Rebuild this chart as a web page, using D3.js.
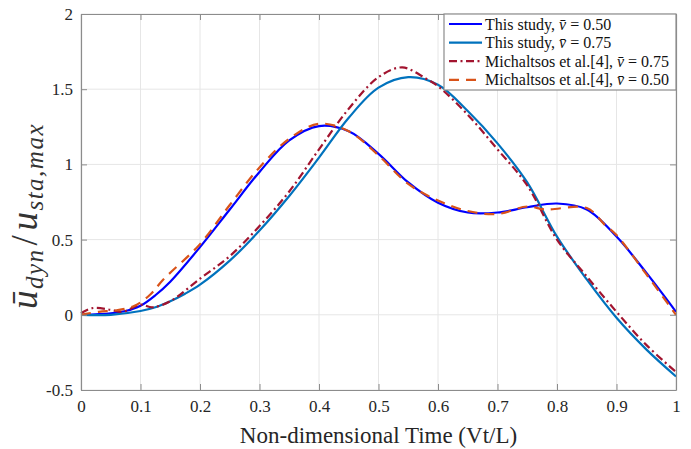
<!DOCTYPE html>
<html>
<head>
<meta charset="utf-8">
<script src="https://cdn.jsdelivr.net/npm/d3@7"></script>
<style>
  body { margin: 0; background: #fff; }
  svg text { font-family: "Liberation Serif", "DejaVu Serif", serif; }
</style>
</head>
<body>
<svg id="chart" width="691" height="449"></svg>
<script>
// values
var xTicks = [0, 0.1, 0.2, 0.3, 0.4, 0.5, 0.6, 0.7, 0.8, 0.9, 1];
var yTicks = [-0.5, 0, 0.5, 1, 1.5, 2];

var study050 = [
  [0, 0], [0.05, 0.01], [0.075, 0.025], [0.1, 0.06], [0.125, 0.13], [0.15, 0.22],
  [0.2, 0.45], [0.25, 0.7], [0.3, 0.95], [0.35, 1.16], [0.4, 1.255], [0.45, 1.22],
  [0.5, 1.07], [0.55, 0.88], [0.6, 0.745], [0.65, 0.68], [0.7, 0.68], [0.75, 0.715],
  [0.8, 0.74], [0.85, 0.7], [0.9, 0.52], [0.95, 0.28], [1, 0.02]
];
var study075 = [
  [0, 0], [0.05, 0.0], [0.1, 0.025], [0.125, 0.05], [0.15, 0.09], [0.175, 0.14],
  [0.2, 0.2], [0.25, 0.36], [0.3, 0.56], [0.35, 0.79], [0.4, 1.045], [0.45, 1.31],
  [0.5, 1.51], [0.55, 1.58], [0.6, 1.53], [0.65, 1.355], [0.7, 1.14], [0.75, 0.88],
  [0.8, 0.52], [0.85, 0.235], [0.9, -0.02], [0.95, -0.23], [1, -0.41]
];
var mich075 = [
  [0, 0.01], [0.02, 0.045], [0.05, 0.033], [0.07, 0.02], [0.1, 0.067], [0.12, 0.05],
  [0.15, 0.09], [0.2, 0.24], [0.25, 0.39], [0.3, 0.59], [0.35, 0.82], [0.4, 1.1],
  [0.45, 1.37], [0.5, 1.58], [0.54, 1.645], [0.58, 1.57], [0.6, 1.52], [0.65, 1.33],
  [0.7, 1.1], [0.75, 0.86], [0.8, 0.5], [0.85, 0.255], [0.9, 0.02], [0.95, -0.2], [1, -0.38]
];
var mich050 = [
  [0, 0.0], [0.03, 0.02], [0.06, 0.03], [0.09, 0.06], [0.116, 0.133], [0.138, 0.233],
  [0.2, 0.47], [0.25, 0.73], [0.3, 0.98], [0.35, 1.17], [0.4, 1.27], [0.45, 1.22],
  [0.5, 1.06], [0.55, 0.87], [0.6, 0.76], [0.65, 0.69], [0.7, 0.67], [0.75, 0.72],
  [0.78, 0.7], [0.85, 0.71], [0.88, 0.6], [0.9, 0.53], [0.95, 0.27], [1, 0.0]
];

var series = [
  {label: "This study, ", v: "0.50", data: study050, color: "#0000ff", dash: null},
  {label: "This study, ", v: "0.75", data: study075, color: "#0072bd", dash: null},
  {label: "Michaltsos et al.[4], ", v: "0.75", data: mich075, color: "#a2142f", dash: "8,3.5,2,3.5"},
  {label: "Michaltsos et al.[4], ", v: "0.50", data: mich050, color: "#d95319", dash: "10,7"}
];

var svg = d3.select("#chart");
var margin = {left: 81, right: 15, top: 14, bottom: 59};
var W = 691, H = 449;
var serif = "'Liberation Serif', 'DejaVu Serif', serif";

var x = d3.scaleLinear().domain([0, 1]).range([margin.left, W - margin.right]);
var y = d3.scaleLinear().domain([-0.5, 2]).range([H - margin.bottom, margin.top]);

// grid
var grid = svg.append("g").attr("class", "grid");
grid.selectAll("line.gx").data(xTicks).enter().append("line")
  .attr("x1", d => x(d)).attr("x2", d => x(d))
  .attr("y1", y(-0.5)).attr("y2", y(2))
  .attr("stroke", "#e6e6e6").attr("stroke-width", 1);
grid.selectAll("line.gy").data(yTicks).enter().append("line")
  .attr("y1", d => y(d)).attr("y2", d => y(d))
  .attr("x1", x(0)).attr("x2", x(1))
  .attr("stroke", "#e6e6e6").attr("stroke-width", 1);

// curves
var line = d3.line()
  .x(d => x(d[0])).y(d => y(d[1]))
  .curve(d3.curveCatmullRom.alpha(0.5));

var plot = svg.append("g");
series.forEach(function(s) {
  plot.append("path")
    .datum(s.data)
    .attr("d", line)
    .attr("fill", "none")
    .attr("stroke", s.color)
    .attr("stroke-width", 2.2)
    .attr("stroke-dasharray", s.dash);
});

// axes, MATLAB style: ticks point inward, box all round
var axisColor = "#8c8c8c";
var fmt = d => String(d);
var xAxis = svg.append("g").attr("transform", "translate(0," + y(-0.5) + ")")
  .call(d3.axisBottom(x).tickValues(xTicks).tickFormat(fmt).tickSizeInner(-6).tickSizeOuter(0).tickPadding(10));
var xAxisTop = svg.append("g").attr("transform", "translate(0," + y(2) + ")")
  .call(d3.axisTop(x).tickValues(xTicks).tickFormat("").tickSizeInner(-6).tickSizeOuter(0));
var yAxis = svg.append("g").attr("transform", "translate(" + x(0) + ",0)")
  .call(d3.axisLeft(y).tickValues(yTicks).tickFormat(fmt).tickSizeInner(-6).tickSizeOuter(0).tickPadding(8));
var yAxisRight = svg.append("g").attr("transform", "translate(" + x(1) + ",0)")
  .call(d3.axisRight(y).tickValues(yTicks).tickFormat("").tickSizeInner(-6).tickSizeOuter(0));

[xAxis, xAxisTop, yAxis, yAxisRight].forEach(function(g) {
  g.attr("font-family", serif).attr("font-size", 17);
  g.selectAll("path.domain").attr("stroke", axisColor).attr("stroke-width", 1.2);
  g.selectAll(".tick line").attr("stroke", axisColor);
  g.selectAll(".tick text")
    .attr("fill", "#262626")
    .style("font-family", serif)
    .style("font-size", "17px");
});

// axis titles
svg.append("text")
  .attr("x", (x(0) + x(1)) / 2).attr("y", 443)
  .attr("text-anchor", "middle")
  .attr("fill", "#262626")
  .style("font-family", serif)
  .style("font-size", "23px")
  .text("Non-dimensional Time (Vt/L)");

var ylab = svg.append("text")
  .attr("transform", "translate(37,216) rotate(-90)")
  .attr("text-anchor", "middle")
  .attr("fill", "#333")
  .style("font-family", serif)
  .style("font-size", "37px")
  .style("letter-spacing", "1.5px")
  .style("font-style", "italic");
ylab.append("tspan").text("\u016b");
ylab.append("tspan").attr("dy", 6).style("font-size", "25px").text("dyn");
ylab.append("tspan").attr("dy", -6).attr("dx", 3).style("font-style", "normal").text("/");
ylab.append("tspan").attr("dx", 3).text("u");
ylab.append("tspan").attr("dy", 6).style("font-size", "25px").text("sta,max");

// legend
var lg = svg.append("g").attr("transform", "translate(444," + y(2) + ")");
lg.append("rect")
  .attr("width", x(1) - 444).attr("height", 76)
  .attr("fill", "#fff").attr("stroke", "#8c8c8c").attr("stroke-width", 1.2);
var rows = lg.selectAll("g.row").data(series).enter().append("g")
  .attr("transform", (d, i) => "translate(0," + (10 + i * 18.6) + ")");
rows.append("line")
  .attr("x1", 5).attr("x2", 38).attr("y1", 0).attr("y2", 0)
  .attr("stroke", d => d.color).attr("stroke-width", 2.2)
  .attr("stroke-dasharray", d => d.dash);
var lt = rows.append("text")
  .attr("x", 41).attr("y", 5.5)
  .attr("fill", "#111")
  .style("font-family", serif)
  .style("font-size", "16px");
lt.append("tspan").text(d => d.label);
lt.append("tspan").style("font-style", "italic").text("v\u0304");
lt.append("tspan").text(d => " = " + d.v);
</script>
</body>
</html>
